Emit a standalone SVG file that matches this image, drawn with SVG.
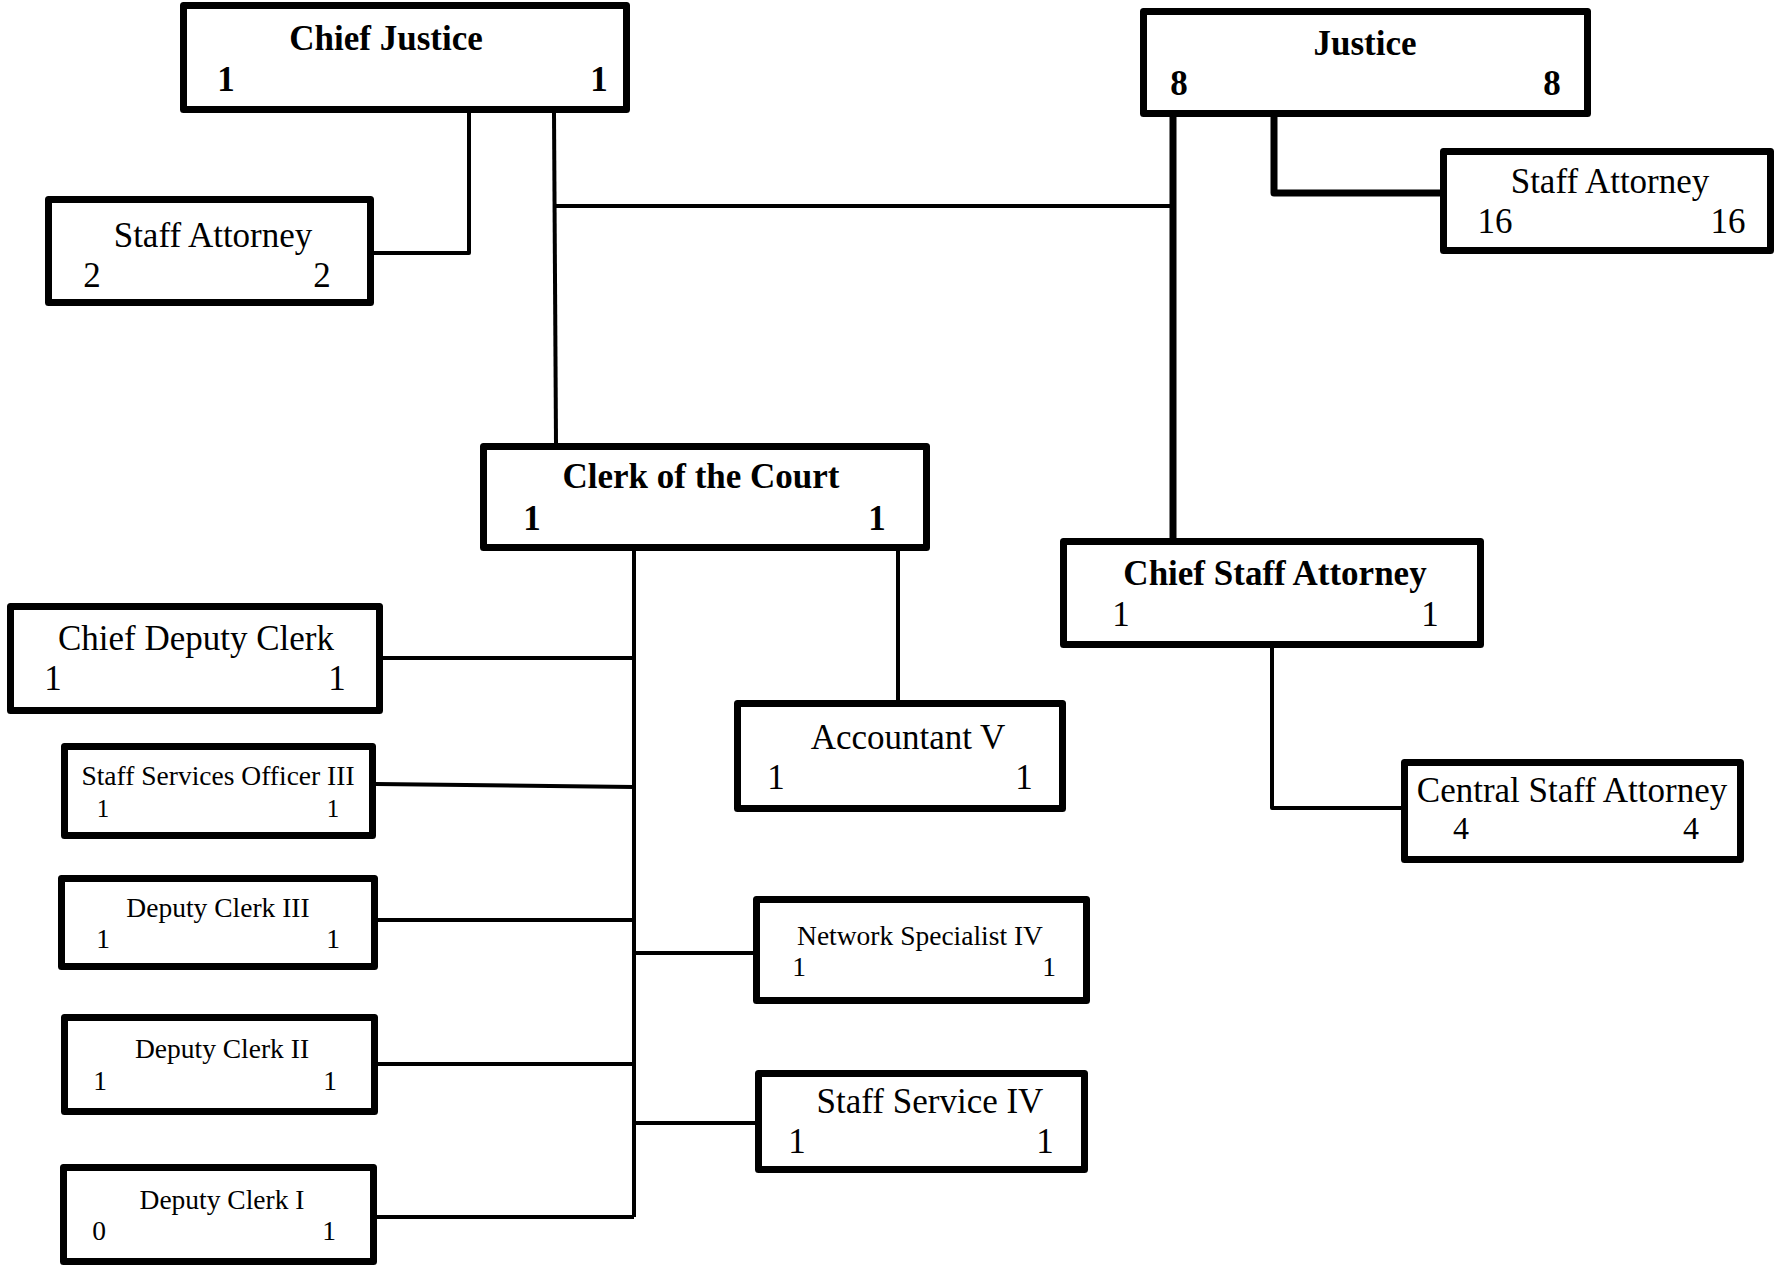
<svg xmlns="http://www.w3.org/2000/svg" width="1775" height="1265" viewBox="0 0 1775 1265">
<style>
  .box { fill: #fff; stroke: #000; stroke-width: 7; stroke-linejoin: round; }
  .t { font-family: "Liberation Serif", "Times New Roman", serif; fill: #000; text-anchor: middle; }
  .b { font-weight: bold; font-size: 35px; }
  .r { font-size: 35px; }
  .s { font-size: 27.5px; }
  .line { fill: none; stroke: #000; stroke-width: 4; stroke-linejoin: round; }
  .thick { stroke-width: 7; }
</style>
<rect width="1775" height="1265" fill="#fff"/>
<g id="connectors">
  <path class="line" d="M469,113 V253 H374"/>
  <path class="line" d="M554,113 L556,443"/>
  <path class="line" d="M556,206 H1173"/>
  <path class="line thick" d="M1173,117 V538"/>
  <path class="line thick" d="M1274,117 V193 H1440"/>
  <path class="line" d="M634,551 V1217"/>
  <path class="line" d="M383,658 H634"/>
  <path class="line" d="M376,784 L634,787"/>
  <path class="line" d="M378,920 H634"/>
  <path class="line" d="M378,1064 H634"/>
  <path class="line" d="M377,1217 H634"/>
  <path class="line" d="M634,953 H753"/>
  <path class="line" d="M634,1123 H755"/>
  <path class="line" d="M898,551 V700"/>
  <path class="line" d="M1272,648 V808 H1401"/>
</g>
<g id="chief-justice">
  <rect class="box" x="183.5" y="5.5" width="443" height="104"/>
  <text class="t b" x="386" y="50">Chief Justice</text>
  <text class="t b" x="226" y="91">1</text>
  <text class="t b" x="599" y="91">1</text>
</g>
<g id="staff-attorney-cj">
  <rect class="box" x="48.5" y="199.5" width="322" height="103"/>
  <text class="t r" x="213" y="247">Staff Attorney</text>
  <text class="t r" x="92" y="287">2</text>
  <text class="t r" x="322" y="287">2</text>
</g>
<g id="justice">
  <rect class="box" x="1143.5" y="11.5" width="444" height="102"/>
  <text class="t b" x="1365" y="55">Justice</text>
  <text class="t b" x="1179" y="95">8</text>
  <text class="t b" x="1552" y="95">8</text>
</g>
<g id="staff-attorney-j">
  <rect class="box" x="1443.5" y="151.5" width="327" height="99"/>
  <text class="t r" x="1610" y="193">Staff Attorney</text>
  <text class="t r" x="1495" y="233">16</text>
  <text class="t r" x="1728" y="233">16</text>
</g>
<g id="clerk">
  <rect class="box" x="483.5" y="446.5" width="443" height="101"/>
  <text class="t b" x="701" y="488">Clerk of the Court</text>
  <text class="t b" x="532" y="530">1</text>
  <text class="t b" x="877" y="530">1</text>
</g>
<g id="chief-staff-attorney">
  <rect class="box" x="1063.5" y="541.5" width="417" height="103"/>
  <text class="t b" x="1275" y="585">Chief Staff Attorney</text>
  <text class="t r" x="1121" y="626">1</text>
  <text class="t r" x="1430" y="626">1</text>
</g>
<g id="central-staff-attorney">
  <rect class="box" x="1404.5" y="762.5" width="336" height="97"/>
  <text class="t r" x="1572" y="802">Central Staff Attorney</text>
  <text class="t" x="1461" y="839" font-size="32">4</text>
  <text class="t" x="1691" y="839" font-size="32">4</text>
</g>
<g id="chief-deputy-clerk">
  <rect class="box" x="10.5" y="606.5" width="369" height="104"/>
  <text class="t r" x="196" y="650">Chief Deputy Clerk</text>
  <text class="t r" x="53" y="690">1</text>
  <text class="t r" x="337" y="690">1</text>
</g>
<g id="staff-services-officer-iii">
  <rect class="box" x="64.5" y="746.5" width="308" height="89"/>
  <text class="t s" x="218" y="785">Staff Services Officer III</text>
  <text class="t" x="103" y="817" font-size="25">1</text>
  <text class="t" x="333" y="817" font-size="25">1</text>
</g>
<g id="deputy-clerk-iii">
  <rect class="box" x="61.5" y="878.5" width="313" height="88"/>
  <text class="t s" x="218" y="917">Deputy Clerk III</text>
  <text class="t s" x="103" y="948">1</text>
  <text class="t s" x="333" y="948">1</text>
</g>
<g id="deputy-clerk-ii">
  <rect class="box" x="64.5" y="1017.5" width="310" height="94"/>
  <text class="t s" x="222" y="1058">Deputy Clerk II</text>
  <text class="t s" x="100" y="1090">1</text>
  <text class="t s" x="330" y="1090">1</text>
</g>
<g id="deputy-clerk-i">
  <rect class="box" x="63.5" y="1167.5" width="310" height="94"/>
  <text class="t s" x="222" y="1209">Deputy Clerk I</text>
  <text class="t s" x="99" y="1240">0</text>
  <text class="t s" x="329" y="1240">1</text>
</g>
<g id="accountant-v">
  <rect class="box" x="737.5" y="703.5" width="325" height="105"/>
  <text class="t r" x="908" y="749">Accountant V</text>
  <text class="t r" x="776" y="789">1</text>
  <text class="t r" x="1024" y="789">1</text>
</g>
<g id="network-specialist-iv">
  <rect class="box" x="756.5" y="899.5" width="330" height="101"/>
  <text class="t s" x="920" y="945">Network Specialist IV</text>
  <text class="t s" x="799" y="976">1</text>
  <text class="t s" x="1049" y="976">1</text>
</g>
<g id="staff-service-iv">
  <rect class="box" x="758.5" y="1073.5" width="326" height="96"/>
  <text class="t r" x="930" y="1113">Staff Service IV</text>
  <text class="t r" x="797" y="1153">1</text>
  <text class="t r" x="1045" y="1153">1</text>
</g>
</svg>
